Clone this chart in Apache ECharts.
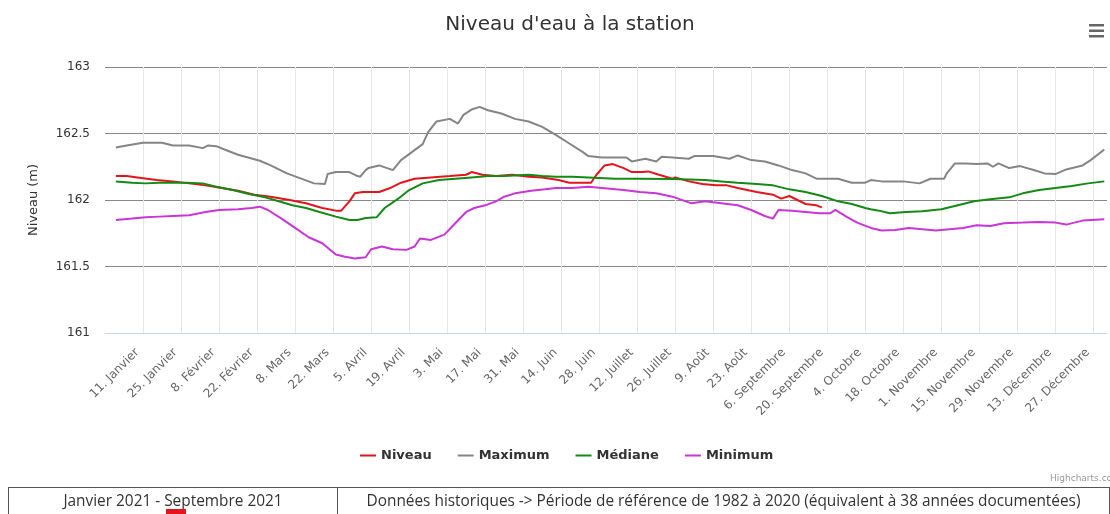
<!DOCTYPE html>
<html>
<head>
<meta charset="utf-8">
<script src="https://cdn.jsdelivr.net/npm/echarts@6/dist/echarts.min.js"></script>
<style>
html,body{margin:0;padding:0;background:#fff;overflow:hidden;}
#chart{position:absolute;left:0;top:0;width:1110px;height:514px;}
#tbl{position:absolute;left:8px;top:487px;border-collapse:collapse;font-family:'Open Sans',sans-serif;font-size:15.4px;color:#333;}
#tbl td{border:1px solid #555;border-bottom:none;text-align:center;line-height:20px;padding:3px 0 0 0;vertical-align:top;height:30px;}
#mark{position:absolute;left:166px;top:509px;width:20px;height:6px;background:#e3141c;}
</style>
</head>
<body>
<div id="chart"></div>
<table id="tbl"><tr>
<td style="width:331px">Janvier 2021 - Septembre 2021</td>
<td style="width:779px">Données historiques -&gt; Période de référence de 1982 à 2020 (équivalent à 38 années documentées)</td>
</tr></table>
<div id="mark"></div>
<script>
// Day of year (1 = 1 janvier) and level (m)
const niveauDays = [1,5,9,16,22,28,34,40,46,52,58,65,71,77,82,84,87,89,92,98,102,106,111,117,124,130,132,136,141,147,153,158,164,168,173,176,178,181,184,188,191,195,197,201,206,207,212,217,222,226,230,237,243,246,249,252,255,259,261];
const niveauVals = [162.18,162.18,162.17,162.15,162.14,162.125,162.11,162.09,162.07,162.04,162.025,162.0,161.975,161.94,161.92,161.92,161.99,162.05,162.06,162.06,162.09,162.13,162.16,162.17,162.18,162.19,162.21,162.19,162.18,162.19,162.175,162.17,162.15,162.13,162.13,162.13,162.19,162.26,162.27,162.24,162.21,162.21,162.215,162.19,162.16,162.17,162.14,162.12,162.11,162.11,162.09,162.06,162.04,162.01,162.03,162.0,161.97,161.96,161.945];

const maxDays = [1,5,11,18,22,28,33,35,38,41,46,54,58,64,70,74,78,79,82,87,90,91,93,94,98,103,106,110,114,116,119,124,127,129,132,135,138,143,148,153,158,163,168,173,175,180,185,189,191,196,200,202,206,212,214,221,227,230,235,240,245,250,255,259,267,272,277,279,283,291,297,301,306,307,310,314,318,322,324,326,330,334,339,343,347,351,357,360,365];
const maxVals = [162.395,162.41,162.43,162.43,162.41,162.41,162.39,162.41,162.405,162.38,162.34,162.295,162.26,162.2,162.155,162.125,162.12,162.195,162.21,162.21,162.18,162.175,162.225,162.24,162.26,162.225,162.3,162.36,162.42,162.51,162.59,162.61,162.575,162.64,162.68,162.7,162.675,162.65,162.61,162.59,162.55,162.49,162.425,162.36,162.33,162.32,162.32,162.32,162.29,162.31,162.29,162.325,162.32,162.31,162.33,162.33,162.31,162.335,162.3,162.29,162.26,162.225,162.2,162.16,162.16,162.13,162.13,162.15,162.14,162.14,162.125,162.16,162.16,162.2,162.275,162.275,162.27,162.275,162.25,162.275,162.24,162.255,162.225,162.2,162.195,162.23,162.26,162.3,162.38];

const medDays = [1,7,12,17,22,27,33,38,44,50,56,61,66,71,76,82,87,90,93,97,100,105,109,114,120,126,132,138,144,153,158,163,169,175,185,194,206,218,224,230,237,243,249,255,261,267,272,277,279,282,286,292,298,305,310,317,323,330,335,341,347,353,359,365];
const medVals = [162.14,162.13,162.125,162.13,162.13,162.13,162.125,162.1,162.075,162.045,162.02,161.99,161.96,161.94,161.91,161.875,161.85,161.85,161.865,161.87,161.94,162.01,162.075,162.125,162.15,162.16,162.17,162.18,162.18,162.19,162.18,162.175,162.175,162.17,162.16,162.16,162.157,162.15,162.14,162.13,162.12,162.11,162.08,162.06,162.03,161.99,161.97,161.94,161.93,161.92,161.9,161.91,161.915,161.93,161.955,161.99,162.005,162.02,162.05,162.075,162.09,162.105,162.125,162.14];

const minDays = [1,7,12,17,22,28,34,39,46,51,54,57,62,67,72,77,82,85,89,93,95,99,103,108,111,113,117,122,126,130,133,137,141,144,148,154,159,163,169,175,180,185,188,194,200,206,213,218,224,230,235,240,243,245,250,255,260,264,266,270,274,279,283,288,293,298,303,308,313,318,323,328,335,341,347,351,357,365];
const minVals = [161.85,161.86,161.87,161.875,161.88,161.885,161.91,161.925,161.93,161.94,161.95,161.925,161.86,161.79,161.72,161.675,161.59,161.575,161.56,161.57,161.63,161.65,161.63,161.625,161.65,161.71,161.7,161.74,161.825,161.91,161.94,161.96,161.99,162.025,162.05,162.07,162.08,162.09,162.09,162.1,162.09,162.08,162.075,162.06,162.05,162.025,161.975,161.99,161.975,161.96,161.925,161.88,161.86,161.925,161.92,161.91,161.9,161.9,161.925,161.875,161.83,161.79,161.77,161.775,161.79,161.78,161.77,161.78,161.79,161.81,161.805,161.825,161.83,161.835,161.83,161.815,161.845,161.855];

// x-axis tick labels, every 14 days starting 11 janvier (day 11)
const tickLabels = ['11. Janvier','25. Janvier','8. Février','22. Février','8. Mars','22. Mars','5. Avril','19. Avril','3. Mai','17. Mai','31. Mai','14. Juin','28. Juin','12. Juillet','26. Juillet','9. Août','23. Août','6. Septembre','20. Septembre','4. Octobre','18. Octobre','1. Novembre','15. Novembre','29. Novembre','13. Décembre','27. Décembre'];
const yTicks = [161, 161.5, 162, 162.5, 163];

const FIRST_TICK_DAY = 11;
function pairs(days, vals) { return days.map((d, i) => [d - FIRST_TICK_DAY, vals[i]]); }

const chart = echarts.init(document.getElementById('chart'), null, {renderer: 'canvas'});
const lineSeries = (name, days, vals, color) => ({
  name, type: 'line', data: pairs(days, vals), showSymbol: false, symbol: 'none',
  lineStyle: {color, width: 2}, itemStyle: {color}, emphasis: {disabled: true}, animation: false
});

chart.setOption({
  animation: false,
  title: {
    text: "Niveau d'eau à la station", left: 565, top: 10, textAlign: 'center',
    textStyle: {fontFamily: 'DejaVu Sans', fontSize: 20, fontWeight: 'normal', color: '#333'}
  },
  legend: {
    left: 355, top: 444, icon: 'rect', itemWidth: 16, itemHeight: 2, itemGap: 26,
    textStyle: {fontFamily: 'DejaVu Sans', fontSize: 13, fontWeight: 'bold', color: '#333'},
    data: ['Niveau', 'Maximum', 'Médiane', 'Minimum']
  },
  grid: {left: 105, right: 3, top: 67, bottom: 181, containLabel: false, outerBoundsMode: 'none'},
  xAxis: {
    type: 'value', min: -14, max: 355, interval: 14,
    axisLine: {show: true, lineStyle: {color: '#ccd6eb', width: 1}},
    axisTick: {show: false},
    splitLine: {show: true, showMinLine: false, showMaxLine: false, lineStyle: {color: '#e6e6e6', width: 1}},
    axisLabel: {
      rotate: 45, margin: 12, padding: [0, 8, 0, 0], showMinLabel: false, showMaxLabel: false,
      fontFamily: 'DejaVu Sans', fontSize: 12, color: '#666',
      formatter: v => { const i = Math.round(v / 14); return (i >= 0 && i < tickLabels.length) ? tickLabels[i] : ''; }
    }
  },
  yAxis: {
    type: 'value', min: yTicks[0], max: yTicks[yTicks.length - 1], interval: 0.5,
    name: 'Niveau (m)', nameLocation: 'middle', nameGap: 65,
    nameTextStyle: {fontFamily: 'DejaVu Sans', fontSize: 13, color: '#333'},
    axisLine: {show: false}, axisTick: {show: false},
    splitLine: {show: true, lineStyle: {color: ['#c8c8c8', '#888', '#888', '#888', '#888'], width: 1}},
    axisLabel: {margin: 15, fontFamily: 'DejaVu Sans', fontSize: 12, color: '#333'}
  },
  graphic: [
    {type: 'rect', left: 1089, top: 24, shape: {width: 15, height: 2.5}, style: {fill: '#666'}},
    {type: 'rect', left: 1089, top: 29.5, shape: {width: 15, height: 2.5}, style: {fill: '#666'}},
    {type: 'rect', left: 1089, top: 35, shape: {width: 15, height: 2.5}, style: {fill: '#666'}},
    {type: 'text', left: 1050, top: 474, style: {text: 'Highcharts.com', fontFamily: 'DejaVu Sans', fontSize: 9, fill: '#999'}}
  ],
  series: [
    lineSeries('Niveau', niveauDays, niveauVals, '#e3141c'),
    lineSeries('Maximum', maxDays, maxVals, '#858585'),
    lineSeries('Médiane', medDays, medVals, '#138a13'),
    lineSeries('Minimum', minDays, minVals, '#c935d6')
  ]
});
</script>
</body>
</html>
